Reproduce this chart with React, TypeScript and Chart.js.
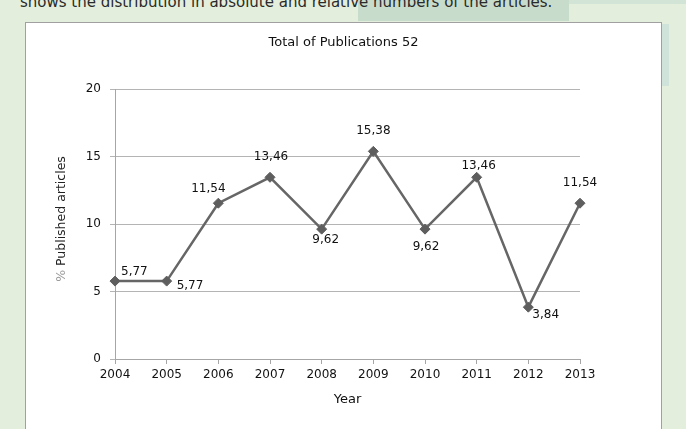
import React, { useEffect, useRef } from "react";
import { Chart, registerables } from "chart.js";

Chart.register(...registerables);

const years = ["2004", "2005", "2006", "2007", "2008", "2009", "2010", "2011", "2012", "2013"];
const percentages = [5.77, 5.77, 11.54, 13.46, 9.62, 15.38, 9.62, 13.46, 3.84, 11.54];
const valueLabels = ["5,77", "5,77", "11,54", "13,46", "9,62", "15,38", "9,62", "13,46", "3,84", "11,54"];
const chartTitle = "Total of Publications 52";
const xTitle = "Year";
const yTitlePrefix = "%";
const yTitleRest = " Published articles";
const introText = "shows the distribution in absolute and relative numbers of the articles.";

// label placement (dx, dy from point, text alignment)
const labelPlacement: [number, number, CanvasTextAlign][] = [
  [6, -9, "left"],
  [10, 5, "left"],
  [-10, -14, "center"],
  [1, -20, "center"],
  [4, 11, "center"],
  [0, -20, "center"],
  [1, 18, "center"],
  [2, -11, "center"],
  [4, 8, "left"],
  [0, -20, "center"],
];

const FONT = "'DejaVu Sans', sans-serif";

const decorPlugin = {
  id: "decor",
  afterDatasetsDraw(chart: any) {
    const ctx = chart.ctx;
    const area = chart.chartArea;
    const meta = chart.getDatasetMeta(0);
    ctx.save();
    ctx.fillStyle = "#111";
    ctx.font = `12px ${FONT}`;
    ctx.textBaseline = "middle";
    meta.data.forEach((pt: any, i: number) => {
      const [dx, dy, align] = labelPlacement[i];
      ctx.textAlign = align;
      ctx.fillText(valueLabels[i], pt.x + dx, pt.y + dy);
    });
    // title
    ctx.textAlign = "center";
    ctx.font = `13px ${FONT}`;
    ctx.fillStyle = "#111";
    ctx.fillText(chartTitle, chart.width / 2, 20);
    // x title
    ctx.fillText(xTitle, (area.left + area.right) / 2, area.bottom + 41);
    // y title
    ctx.font = `12.5px ${FONT}`;
    ctx.translate(36, (area.top + area.bottom) / 2 - 5);
    ctx.rotate(-Math.PI / 2);
    const w1 = ctx.measureText(yTitlePrefix).width;
    const w2 = ctx.measureText(yTitleRest).width;
    const start = -(w1 + w2) / 2;
    ctx.textAlign = "left";
    ctx.fillStyle = "#9a9a9a";
    ctx.fillText(yTitlePrefix, start, 0);
    ctx.fillStyle = "#222";
    ctx.fillText(yTitleRest, start + w1, 0);
    ctx.restore();
  },
};

function LineChart() {
  const ref = useRef<HTMLCanvasElement>(null);
  useEffect(() => {
    if (!ref.current) return;
    const chart = new Chart(ref.current, {
      type: "line",
      data: {
        labels: years,
        datasets: [
          {
            data: percentages,
            borderColor: "#666666",
            borderWidth: 2.5,
            pointStyle: "rectRot",
            pointRadius: 5,
            pointBackgroundColor: "#5e5e5e",
            pointBorderColor: "#5e5e5e",
            pointBorderWidth: 1,
            tension: 0,
          },
        ],
      },
      options: {
        responsive: false,
        animation: false,
        layout: { padding: { top: 66, right: 81, left: 0, bottom: 0 } },
        plugins: { legend: { display: false }, tooltip: { enabled: false }, title: { display: false } },
        scales: {
          x: {
            offset: false,
            grid: { display: true, drawOnChartArea: false, drawTicks: true, tickLength: 5, color: "#a6a6a6" },
            border: { display: true, color: "#a6a6a6", width: 1 },
            ticks: { color: "#111", font: { family: FONT, size: 12 }, padding: 4, maxRotation: 0, autoSkip: false },
            afterFit: (s: any) => { s.height = 74; },
          },
          y: {
            min: 0,
            max: 20,
            ticks: { stepSize: 5, color: "#111", font: { family: FONT, size: 12 }, padding: 9 },
            grid: { color: "#b4b4b4", tickLength: 5, drawTicks: true },
            border: { display: true, color: "#a6a6a6", width: 1 },
            afterFit: (s: any) => { s.width = 89; },
          },
        },
      },
      plugins: [decorPlugin],
    });
    return () => chart.destroy();
  }, []);
  return <canvas ref={ref} width={635} height={410} style={{ display: "block" }} />;
}

export default function App() {
  return (
    <div style={{ position: "fixed", inset: 0, background: "#e3eedc", overflow: "hidden" }}>
      <div style={{ position: "absolute", left: 358, top: 0, width: 211, height: 21, background: "#c8dccb" }} />
      <div style={{ position: "absolute", left: 569, top: 0, width: 117, height: 4, background: "#d2e4d5" }} />
      <div style={{ position: "absolute", left: 661, top: 24, width: 8, height: 62, background: "#d0e3da" }} />
      <div
        style={{
          position: "absolute",
          left: 20,
          top: -6,
          fontFamily: FONT,
          fontSize: 15,
          lineHeight: "16px",
          color: "#2a2a2a",
          whiteSpace: "nowrap",
        }}
      >
        {introText}
      </div>
      <div
        style={{
          position: "absolute",
          left: 25,
          top: 22,
          width: 635,
          height: 420,
          background: "#fff",
          border: "1px solid #a0a0a0",
        }}
      >
        <LineChart />
      </div>
    </div>
  );
}
